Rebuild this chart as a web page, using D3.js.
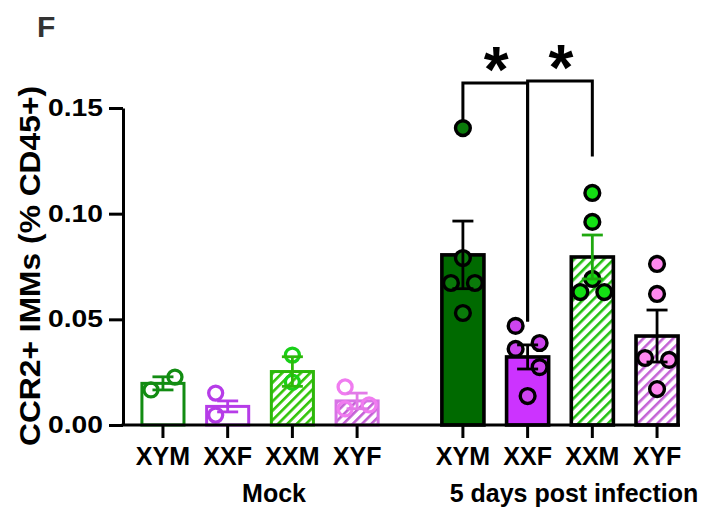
<!DOCTYPE html>
<html><head><meta charset="utf-8">
<script src="https://cdn.jsdelivr.net/npm/d3@7"></script>
<style>
body{margin:0;background:#fff}
svg{display:block}
text{font-family:"Liberation Sans",Arial,Helvetica,sans-serif;font-weight:bold}
</style>
</head><body>
<svg id="chart" width="704" height="507"></svg>
<script>
// ---------- data ----------
const groups = ["Mock", "5 days post infection"];
const genotypes = ["XYM", "XXF", "XXM", "XYF"];
const yTicks = [0, 0.05, 0.10, 0.15];

// individual animals
const mockPoints = [
  [0.0166, 0.0227],
  [0.0151, 0.0047],
  [0.0331, 0.0203],
  [0.0180, 0.0076, 0.0095]
];
const infPoints = [
  [0.1405, 0.0790, 0.0672, 0.0672, 0.0530],
  [0.0469, 0.0360, 0.0388, 0.0274, 0.0137],
  [0.1098, 0.0961, 0.0691, 0.0629, 0.0629],
  [0.0762, 0.0620, 0.0317, 0.0308, 0.0170]
];
// side of the column each point sits on (-1 left, 0 centre, 1 right)
const mockSides = [[-1, 1], [-1, -1], [0, 0], [-1, -1, 1]];
const infSides  = [[0, 0, -1, 1, 0], [-1, -1, 1, 1, 0], [0, 0, 0, -1, 1], [0, 0, -1, 1, 0]];

// bar means and SEM
const mockMeans = [0.0197, 0.0088, 0.0253, 0.0114];
const mockSems  = [0.0031, 0.0026, 0.0070, 0.0037];
const infMeans  = [0.0805, 0.0322, 0.0795, 0.0421];
const infSems   = [0.0160, 0.0057, 0.0104, 0.0123];

// significance brackets (inf group)
const sigFrom   = ["XYM", "XXF"];
const sigTo     = ["XXF", "XXM"];
const sigLabels = ["*", "*"];
const sigTop    = [0.1618, 0.1628];
const sigLegFrom = [0.1440, 0.0490];
const sigLegTo   = [0.0490, 0.1270];

// ---------- styles ----------
const mockStyle = [
  {stroke:"#128c12", fill:"none", hatch:null, pt:"#128c12", err:"#128c12"},
  {stroke:"#b63ce8", fill:"none", hatch:null, pt:"#b63ce8", err:"#b63ce8"},
  {stroke:"#2db80a", fill:"none", hatch:"#33c40a", pt:"#19d019", err:"#2db80a"},
  {stroke:"#d872e6", fill:"none", hatch:"#c45fd6", pt:"#f07cf0", err:"#e27ae8"}
];
const infStyle = [
  {stroke:"#000", fill:"#006a00", hatch:null, pt:"#0a7a0a", err:"#000"},
  {stroke:"#000", fill:"#cc33ff", hatch:null, pt:"#cc44ee", err:"#000"},
  {stroke:"#000", fill:"none", hatch:"#22c010", pt:"#14e014", err:"#1fa80f"},
  {stroke:"#000", fill:"none", hatch:"#c462d6", pt:"#ff88f0", err:"#000"}
];

// ---------- scales ----------
const svg = d3.select("#chart");
const plotLeft = 123, plotRight = 680, plotBottom = 425;
const y = d3.scaleLinear().domain([0, 0.15]).range([plotBottom, 108]);
const outer = d3.scaleBand().domain(groups).range([130.6, 689.4]).paddingInner(0.137).paddingOuter(0);
const inner = d3.scaleBand().domain(genotypes).range([0, outer.bandwidth()]).paddingInner(0.35).paddingOuter(0.175);
const cx = (g, k) => outer(g) + inner(k) + inner.bandwidth() / 2;

// ---------- hatch patterns ----------
const defs = svg.append("defs");
function hatch(id, color, size, w) {
  const p = defs.append("pattern").attr("id", id)
    .attr("patternUnits", "userSpaceOnUse")
    .attr("width", size).attr("height", size)
    .attr("patternTransform", "rotate(45)");
  p.append("rect").attr("width", size).attr("height", size).attr("fill", "#fff");
  p.append("rect").attr("width", w).attr("height", size).attr("fill", color);
}

const sets = [
  {g: groups[0], pts: mockPoints, sides: mockSides, means: mockMeans, sems: mockSems, st: mockStyle, open: true},
  {g: groups[1], pts: infPoints, sides: infSides, means: infMeans, sems: infSems, st: infStyle, open: false}
];

sets.forEach((s, si) => {
  s.st.forEach((st, i) => {
    if (st.hatch) hatch("h" + si + i, st.hatch, si === 0 ? 6.6 : 7, 2.6);
  });
});

// ---------- bars, points, error bars ----------
const bw = inner.bandwidth();
sets.forEach((s, si) => {
  const gg = svg.append("g");
  genotypes.forEach((k, i) => {
    const st = s.st[i];
    const x0 = cx(s.g, k);
    const fill = st.hatch ? `url(#h${si}${i})` : (st.fill === "none" ? "#fff" : st.fill);
    gg.append("rect")
      .attr("x", x0 - bw / 2).attr("width", bw)
      .attr("y", y(s.means[i])).attr("height", y(0) - y(s.means[i]))
      .attr("fill", fill)
      .attr("stroke", st.stroke).attr("stroke-width", s.open ? 3 : 3.6);
  });
  genotypes.forEach((k, i) => {
    const st = s.st[i];
    const x0 = cx(s.g, k);
    gg.selectAll(null).data(s.pts[i].map((v, j) => ({v, side: s.sides[i][j]})))
      .join("circle")
      .attr("cx", d => x0 + d.side * 12)
      .attr("cy", d => y(d.v))
      .attr("r", s.open ? 7 : 7.4)
      .attr("fill", s.open ? "none" : st.pt)
      .attr("stroke", s.open ? st.pt : "#000")
      .attr("stroke-width", s.open ? 3.3 : 3.4);
  });
  genotypes.forEach((k, i) => {
    const st = s.st[i];
    const x0 = cx(s.g, k);
    const hi = y(s.means[i] + s.sems[i]), lo = y(s.means[i] - s.sems[i]);
    const cw = 10.5;
    const e = gg.append("g").attr("stroke", st.err).attr("stroke-width", 2.8).attr("fill", "none");
    e.append("line").attr("x1", x0).attr("x2", x0).attr("y1", hi).attr("y2", lo);
    e.append("line").attr("x1", x0 - cw).attr("x2", x0 + cw).attr("y1", hi).attr("y2", hi);
    e.append("line").attr("x1", x0 - cw).attr("x2", x0 + cw).attr("y1", lo).attr("y2", lo);
  });
});

// ---------- axes ----------
const yAxis = svg.append("g").attr("transform", `translate(${plotLeft},0)`)
  .call(d3.axisLeft(y).tickValues(yTicks).tickSize(14).tickSizeOuter(0).tickPadding(6)
    .tickFormat(d3.format(".2f")));
yAxis.select(".domain").attr("stroke", "#000").attr("stroke-width", 3);
yAxis.selectAll(".tick line").attr("stroke", "#000").attr("stroke-width", 3);
yAxis.selectAll(".tick text")
  .attr("font-size", 23).attr("fill", "#000")
  .attr("font-family", '"Liberation Sans",Arial,sans-serif').attr("font-weight", "bold")
  .attr("textLength", 55).attr("lengthAdjust", "spacingAndGlyphs");

const xg = svg.append("g");
xg.append("line").attr("x1", plotLeft - 1.5).attr("x2", plotRight)
  .attr("y1", plotBottom).attr("y2", plotBottom)
  .attr("stroke", "#000").attr("stroke-width", 3);
groups.forEach(g => {
  genotypes.forEach(k => {
    const x0 = cx(g, k);
    xg.append("line").attr("x1", x0).attr("x2", x0)
      .attr("y1", plotBottom).attr("y2", plotBottom + 13)
      .attr("stroke", "#000").attr("stroke-width", 3);
    xg.append("text").attr("x", x0).attr("y", plotBottom + 40)
      .attr("text-anchor", "middle").attr("font-size", 25).attr("fill", "#000").text(k);
  });
  xg.append("text").attr("x", outer(g) + outer.bandwidth() / 2 + 14).attr("y", plotBottom + 77)
    .attr("text-anchor", "middle").attr("font-size", 25).attr("fill", "#000").text(g);
});

// y title
svg.append("text")
  .attr("transform", `translate(40,266) rotate(-90)`)
  .attr("text-anchor", "middle").attr("font-size", 30).attr("fill", "#000")
  .attr("textLength", 360).attr("lengthAdjust", "spacingAndGlyphs")
  .text("CCR2+ IMMs (% CD45+)");

// panel letter
svg.append("text").attr("x", 37).attr("y", 37).attr("font-size", 30).attr("fill", "#333").text("F");

// ---------- significance ----------
const sg = svg.append("g");
sigFrom.forEach((f, i) => {
  const g = groups[1];
  const x1 = cx(g, f), x2 = cx(g, sigTo[i]);
  const yt = y(sigTop[i]);
  sg.append("path")
    .attr("d", `M${x1},${y(sigLegFrom[i])}V${yt}H${x2}V${y(sigLegTo[i])}`)
    .attr("fill", "none").attr("stroke", "#000").attr("stroke-width", 3).attr("stroke-linejoin", "miter");
  sg.append("text").attr("x", (x1 + x2) / 2 + 1).attr("y", yt + 9)
    .attr("text-anchor", "middle").attr("font-size", 64).attr("fill", "#000").text(sigLabels[i]);
});
</script>
</body></html>
